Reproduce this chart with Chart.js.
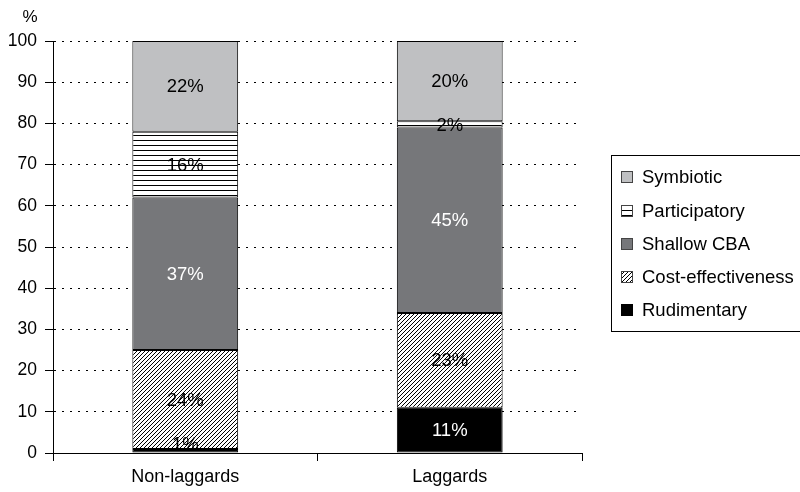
<!DOCTYPE html>
<html>
<head>
<meta charset="utf-8">
<script src="https://cdn.jsdelivr.net/npm/chart.js@4"></script>
<style>
  html, body { margin: 0; padding: 0; background: #fff; }
  #wrap { width: 800px; height: 492px; position: relative; }
</style>
</head>
<body>
<div id="wrap"><canvas id="c" width="800" height="492"></canvas></div>
<script>
// ---- data ----
const categories = ["Non-laggards", "Laggards"];
const seriesNames = ["Rudimentary", "Cost-effectiveness", "Shallow CBA", "Participatory", "Symbiotic"];
const rudimentary = [1, 11];
const costEffectiveness = [24, 23];
const shallowCBA = [37, 45];
const participatory = [16, 1.5];
const symbiotic = [22, 19.5];
const yTicks = [0, 10, 20, 30, 40, 50, 60, 70, 80, 90, 100];
const yUnit = "%";

const FONT = "'Liberation Sans', Arial, Helvetica, sans-serif";

function hatchPattern() {
  const p = 4;
  const c = document.createElement('canvas');
  c.width = p; c.height = p;
  const g = c.getContext('2d');
  g.fillStyle = '#fff'; g.fillRect(0, 0, p, p);
  g.fillStyle = '#000';
  for (let x = 0; x < p; x++) g.fillRect(x, p - 1 - x, 1, 1);
  return g.createPattern(c, 'repeat');
}
function hLinePattern() {
  const c = document.createElement('canvas');
  c.width = 4; c.height = 5;
  const g = c.getContext('2d');
  g.fillStyle = '#fff'; g.fillRect(0, 0, 4, 5);
  g.fillStyle = '#000'; g.fillRect(0, 0, 4, 1);
  return g.createPattern(c, 'repeat');
}

const fills = ['#000000', hatchPattern(), '#76777a', hLinePattern(), '#bfc0c2'];
const labelColors = ['#fff', '#000', '#fff', '#000', '#000'];
const seriesData = [rudimentary, costEffectiveness, shallowCBA, participatory, symbiotic];

const datasets = seriesNames.map((n, i) => ({
  label: n,
  data: seriesData[i],
  backgroundColor: fills[i],
  borderColor: '#000',
  borderWidth: 1,
  borderSkipped: false,
  categoryPercentage: 1.0,
  barPercentage: 0.4
}));

const labelPlugin = {
  id: 'segLabels',
  afterDatasetsDraw(chart) {
    const ctx = chart.ctx;
    const bottom = chart.chartArea.bottom;
    ctx.save();
    ctx.font = '18.5px ' + FONT;
    ctx.textAlign = 'center';
    ctx.textBaseline = 'middle';
    chart.data.datasets.forEach((ds, di) => {
      const meta = chart.getDatasetMeta(di);
      meta.data.forEach((el, i) => {
        const v = ds.data[i];
        let y = (el.y + el.base) / 2;
        y = Math.min(y, bottom - 9);
        ctx.fillStyle = v < 3 ? '#000' : labelColors[di];
        ctx.fillText(Math.round(v) + '%', el.x, y + 1);
      });
    });
    ctx.restore();
  }
};

const extrasPlugin = {
  id: 'extras',
  afterDraw(chart) {
    const ctx = chart.ctx;
    ctx.save();
    // unit label
    ctx.font = '17px ' + FONT;
    ctx.fillStyle = '#000';
    ctx.textAlign = 'center';
    ctx.textBaseline = 'middle';
    ctx.fillText(yUnit, 30, 17);
    // legend box
    ctx.strokeStyle = '#000';
    ctx.lineWidth = 1;
    ctx.strokeRect(611.5, 155.5, 200, 176);
    const order = [4, 3, 2, 1, 0];
    const rows = [177, 211, 244, 277, 310];
    ctx.font = '18.5px ' + FONT;
    ctx.textAlign = 'left';
    order.forEach((di, k) => {
      const y = rows[k];
      ctx.fillStyle = fills[di];
      ctx.fillRect(621, y - 6, 12, 12);
      ctx.strokeStyle = di === 0 ? '#000' : '#444';
      ctx.strokeRect(621.5, y - 5.5, 11, 11);
      ctx.fillStyle = '#000';
      ctx.fillText(seriesNames[di], 642, y + 1);
    });
    ctx.restore();
  }
};

new Chart(document.getElementById('c'), {
  type: 'bar',
  data: { labels: categories, datasets },
  options: {
    responsive: false,
    animation: false,
    devicePixelRatio: 1,
    layout: { padding: { left: 0, right: 218, top: 41, bottom: 0 } },
    plugins: { legend: { display: false }, tooltip: { enabled: false } },
    scales: {
      x: {
        stacked: true,
        offset: true,
        grid: { display: true, drawOnChartArea: false, drawTicks: true, tickLength: 8, color: '#000', offset: true },
        border: { display: true, color: '#000', width: 1 },
        ticks: { color: '#000', font: { family: FONT, size: 18 }, padding: 5 },
        afterFit(s) { s.height = 39; }
      },
      y: {
        stacked: true,
        min: 0, max: 100,
        afterBuildTicks(s) { s.ticks = yTicks.map(v => ({ value: v })); },
        grid: { color: '#000', lineWidth: 1, tickLength: 8, tickBorderDash: [], drawTicks: true },
        border: { display: true, color: '#000', width: 1, dash: [2, 6] },
        ticks: { color: '#000', font: { family: FONT, size: 17.5 }, padding: 8 },
        afterFit(s) { s.width = 53; }
      }
    }
  },
  plugins: [labelPlugin, extrasPlugin]
});
</script>
</body>
</html>
